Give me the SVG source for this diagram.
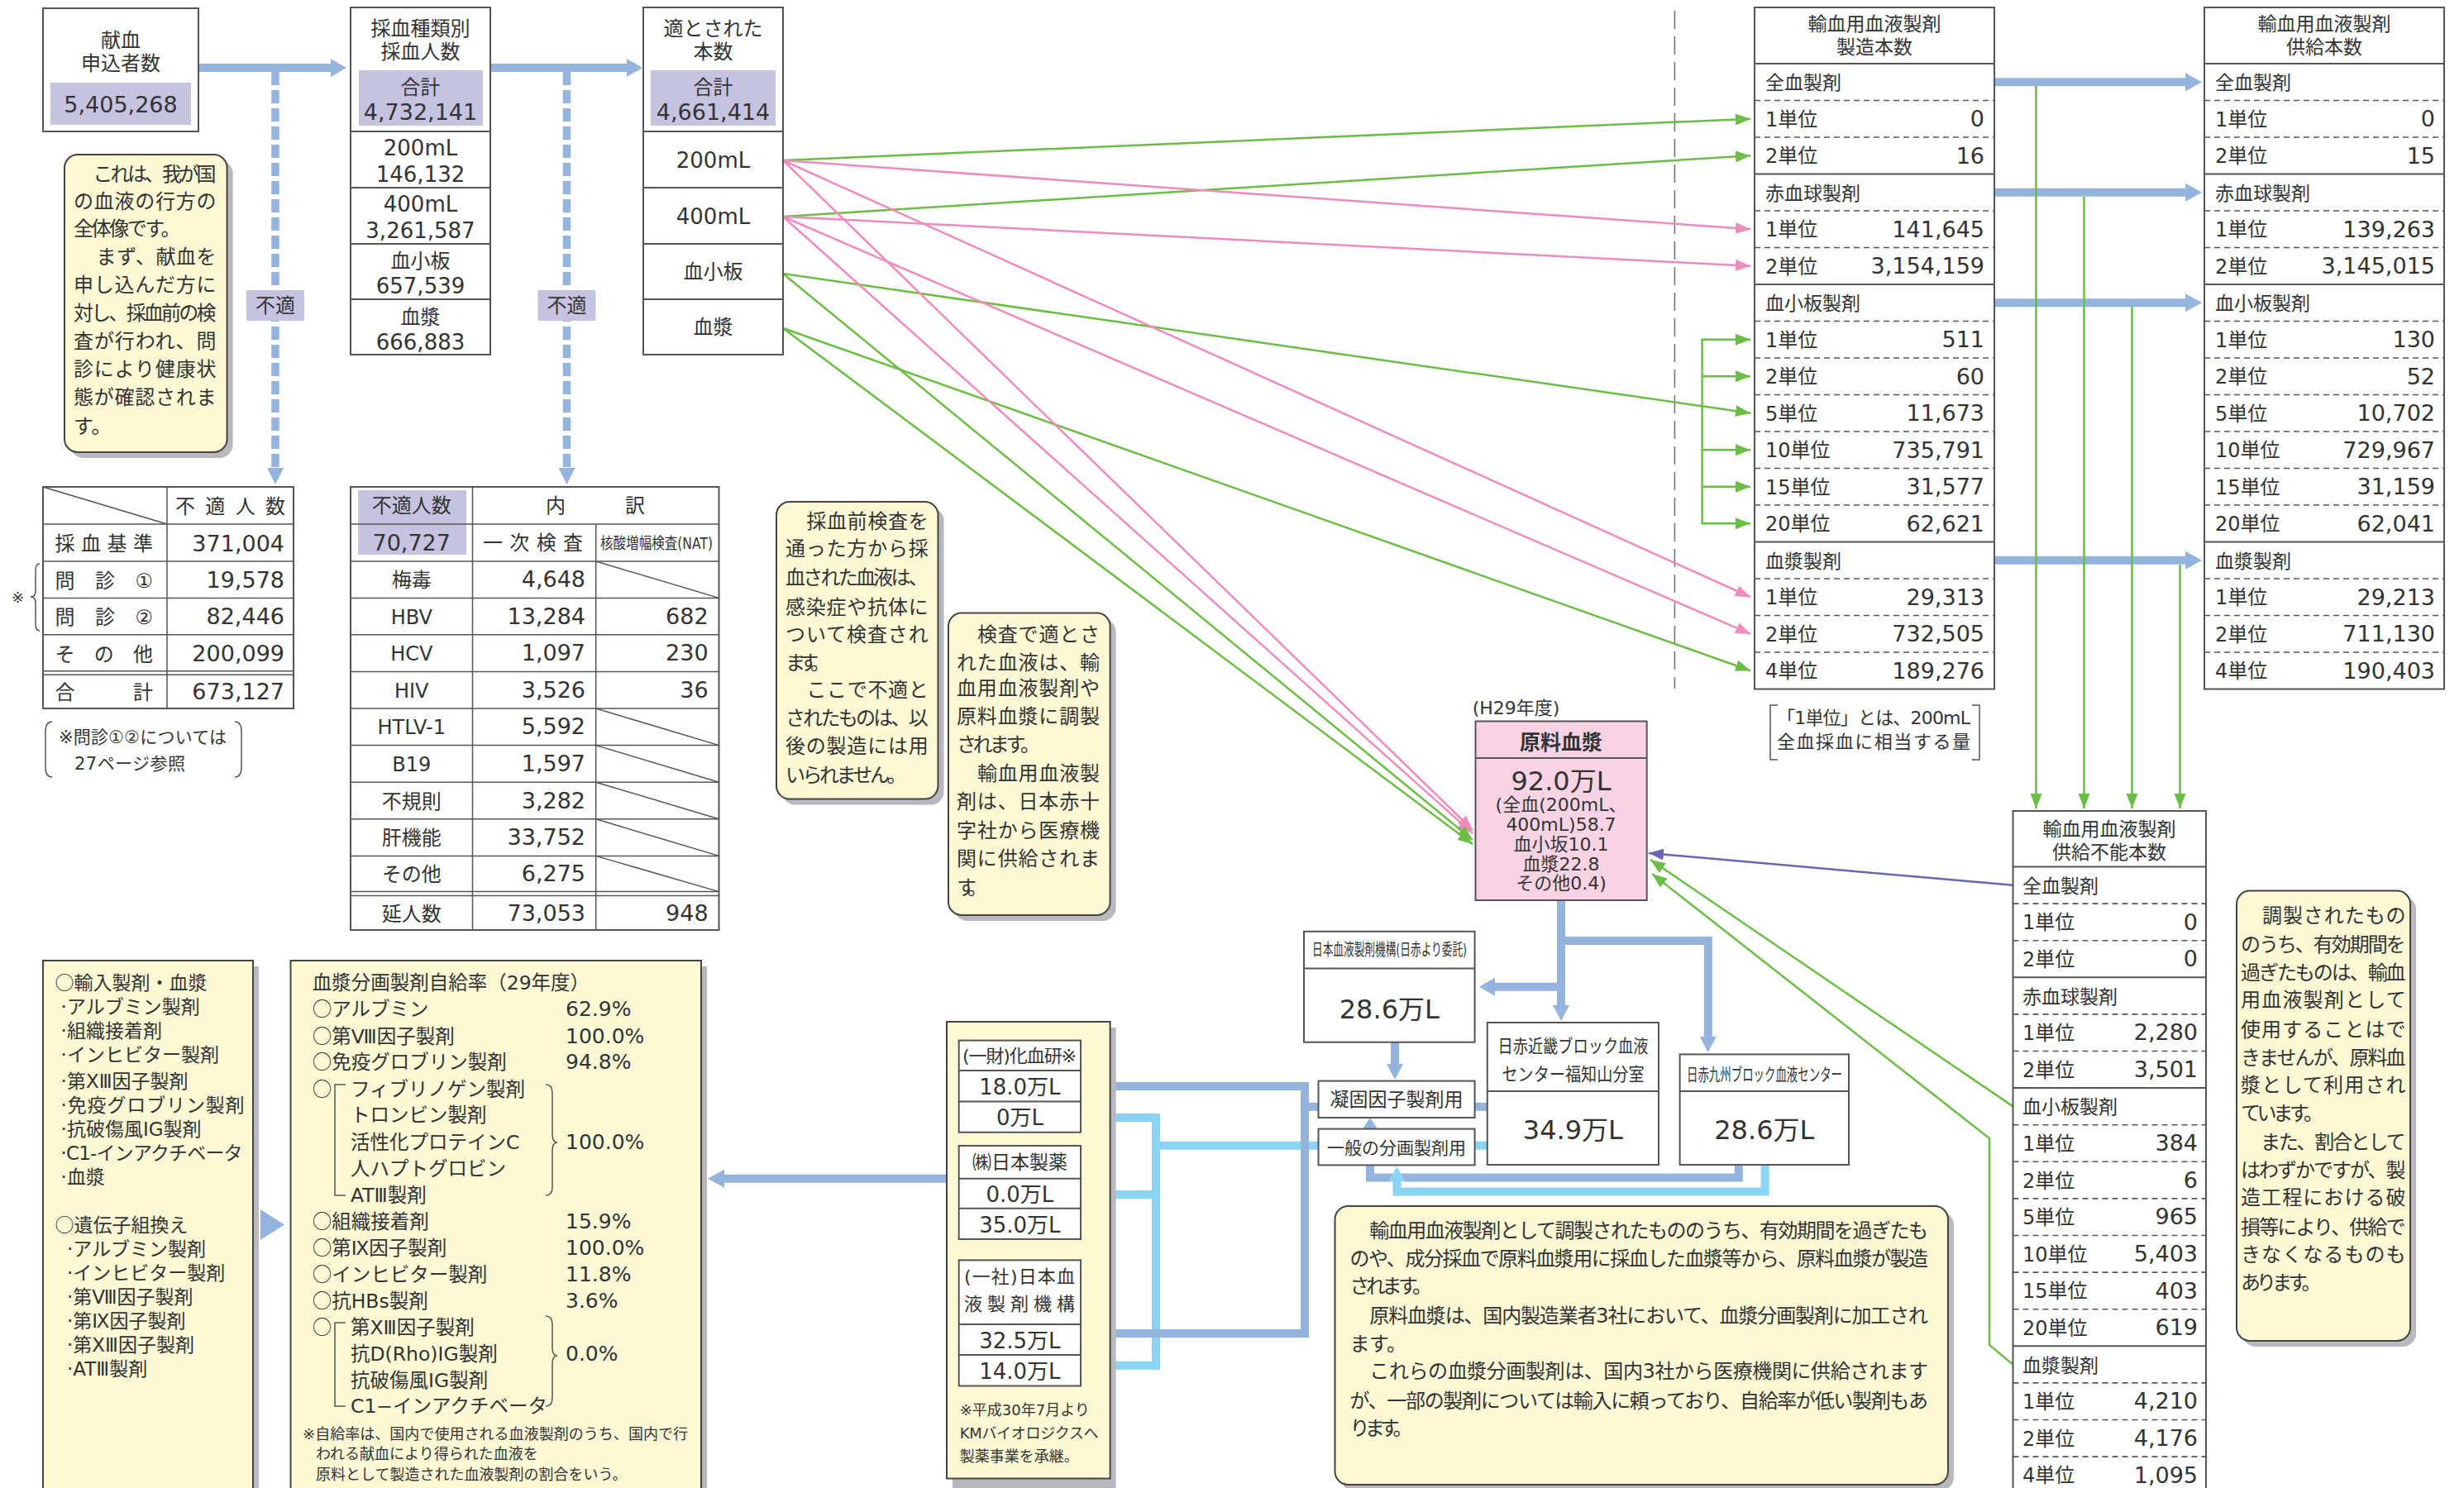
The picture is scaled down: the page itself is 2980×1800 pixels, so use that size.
<svg xmlns="http://www.w3.org/2000/svg" width="2980" height="1800" viewBox="0 0 2980 1800">
<style>
text{font-family:"DejaVu Sans","Noto Sans CJK JP",sans-serif;fill:#333;font-size:24px}
.j{font-family:"Noto Sans CJK JP",sans-serif}
.m{text-anchor:middle}
.e{text-anchor:end}
.v{font-size:27px}
.h{font-size:23px}
.box{fill:#fff;stroke:#555;stroke-width:2}
.sh{fill:#c6c3e1}
.note{fill:#fef9d5;stroke:#444;stroke-width:2}
.shd{fill:#b8b8be}
.sl{stroke:#555;stroke-width:2;fill:none}
.dl{stroke:#555;stroke-width:1.6;stroke-dasharray:7 5}
.tl{stroke:#555;stroke-width:1.5;fill:none}
.tb{stroke:#94b4de;stroke-width:10;fill:none}
.tc{stroke:#8cd4f4;stroke-width:10;fill:none}
.fb{fill:#94b4de}
.fc{fill:#8cd4f4}
.g{stroke:#6cbd45;stroke-width:2.5;fill:none}
.p{stroke:#f08bbd;stroke-width:2.5;fill:none}
.u{stroke:#6a64b4;stroke-width:2.5;fill:none}
</style>
<defs>
<marker id="ag" viewBox="0 0 18 14" refX="18" refY="7" markerWidth="18" markerHeight="14" markerUnits="userSpaceOnUse" orient="auto"><path d="M0,0 L18,7 L0,14 z" fill="#6cbd45"/></marker>
<marker id="ap" viewBox="0 0 18 14" refX="18" refY="7" markerWidth="18" markerHeight="14" markerUnits="userSpaceOnUse" orient="auto"><path d="M0,0 L18,7 L0,14 z" fill="#f08bbd"/></marker>
<marker id="au" viewBox="0 0 18 14" refX="18" refY="7" markerWidth="18" markerHeight="14" markerUnits="userSpaceOnUse" orient="auto"><path d="M0,0 L18,7 L0,14 z" fill="#6a64b4"/></marker>
</defs>
<rect width="2980" height="1800" fill="#fff"/>

<g id="connectors">
<line class="tb" x1="240" y1="82" x2="402" y2="82"/><polygon class="fb" points="400,71 419,82 400,93"/>
<line class="tb" x1="593" y1="82" x2="760" y2="82"/><polygon class="fb" points="758,71 777,82 758,93"/>
<line x1="333" y1="87" x2="333" y2="568" stroke="#94b4de" stroke-width="9.5" stroke-dasharray="16 6"/><polygon class="fb" points="323,566 343,566 333,586"/>
<line x1="685.5" y1="87" x2="685.5" y2="568" stroke="#94b4de" stroke-width="9.5" stroke-dasharray="16 6"/><polygon class="fb" points="675.5,566 695.5,566 685.5,586"/>
<line x1="2025.4" y1="13" x2="2025.4" y2="833" stroke="#777" stroke-width="1.6" stroke-dasharray="22 9"/>
<line class="g" x1="947" y1="194" x2="2117" y2="143.75" marker-end="url(#ag)"/>
<line class="g" x1="947" y1="262" x2="2117" y2="188.25" marker-end="url(#ag)"/>
<line class="p" x1="947" y1="194" x2="2117" y2="277.25" marker-end="url(#ap)"/>
<line class="p" x1="947" y1="262" x2="2117" y2="321.75" marker-end="url(#ap)"/>
<line class="g" x1="947" y1="331" x2="2117" y2="499.75" marker-end="url(#ag)"/>
<line class="p" x1="947" y1="194" x2="2117" y2="722.25" marker-end="url(#ap)"/>
<line class="p" x1="947" y1="262" x2="2117" y2="766.75" marker-end="url(#ap)"/>
<line class="g" x1="947" y1="397" x2="2117" y2="811.25" marker-end="url(#ag)"/>
<line class="p" x1="947" y1="194" x2="1781" y2="1004" marker-end="url(#ap)"/>
<line class="p" x1="947" y1="262" x2="1781" y2="1008" marker-end="url(#ap)"/>
<line class="g" x1="947" y1="331" x2="1781" y2="1016" marker-end="url(#ag)"/>
<line class="g" x1="947" y1="397" x2="1781" y2="1021" marker-end="url(#ag)"/>
<line class="g" x1="2058.6" y1="410.75" x2="2058.6" y2="633.25"/>
<line class="g" x1="2057.4" y1="410.75" x2="2117" y2="410.75" marker-end="url(#ag)"/>
<line class="g" x1="2058.6" y1="455.25" x2="2117" y2="455.25" marker-end="url(#ag)"/>
<line class="g" x1="2058.6" y1="544.25" x2="2117" y2="544.25" marker-end="url(#ag)"/>
<line class="g" x1="2058.6" y1="588.75" x2="2117" y2="588.75" marker-end="url(#ag)"/>
<line class="g" x1="2057.4" y1="633.25" x2="2117" y2="633.25" marker-end="url(#ag)"/>
<line class="tb" x1="2412" y1="99.25" x2="2645" y2="99.25"/><polygon class="fb" points="2643,88.25 2663,99.25 2643,110.25"/>
<line class="tb" x1="2412" y1="232.75" x2="2645" y2="232.75"/><polygon class="fb" points="2643,221.75 2663,232.75 2643,243.75"/>
<line class="tb" x1="2412" y1="366.25" x2="2645" y2="366.25"/><polygon class="fb" points="2643,355.25 2663,366.25 2643,377.25"/>
<line class="tb" x1="2412" y1="677.75" x2="2645" y2="677.75"/><polygon class="fb" points="2643,666.75 2663,677.75 2643,688.75"/>
<line class="g" x1="2462.5" y1="104" x2="2462.5" y2="978" marker-end="url(#ag)"/>
<line class="g" x1="2520.5" y1="238" x2="2520.5" y2="978" marker-end="url(#ag)"/>
<line class="g" x1="2578.5" y1="371" x2="2578.5" y2="978" marker-end="url(#ag)"/>
<line class="g" x1="2636.5" y1="683" x2="2636.5" y2="978" marker-end="url(#ag)"/>
<line class="u" x1="2434.5" y1="1070.8" x2="1994" y2="1032" marker-end="url(#au)"/>
<line class="g" x1="2434.5" y1="1338.4" x2="1996" y2="1040" marker-end="url(#ag)"/>
<polyline class="g" points="2434.5,1650.6 2406,1627 2406,1377 1998,1057" marker-end="url(#ag)"/>
<line class="tb" x1="1888" y1="1089" x2="1888" y2="1218"/><polygon class="fb" points="1878,1216 1898,1216 1888,1235"/>
<polyline class="tb" points="1888,1138 2065.8,1138 2065.8,1256"/><polygon class="fb" points="2055.8,1254 2075.8,1254 2065.8,1273"/>
<line class="tb" x1="1888" y1="1193.7" x2="1806" y2="1193.7"/><polygon class="fb" points="1808,1182.7 1789,1193.7 1808,1204.7"/>
<line class="tb" x1="1687" y1="1260.7" x2="1687" y2="1289"/><polygon class="fb" points="1677,1287 1697,1287 1687,1306"/>
<line class="tb" x1="1783" y1="1338.8" x2="1800" y2="1338.8"/>
<line class="tc" x1="1783" y1="1385.7" x2="1800" y2="1385.7"/>
<polyline class="tc" points="1595,1385.7 1398,1385.7"/>
<line class="tc" x1="1398" y1="1347" x2="1398" y2="1656.7"/>
<line class="tc" x1="1403" y1="1352" x2="1337" y2="1352"/><polygon class="fc" points="1339,1341 1320,1352 1339,1363"/>
<line class="tc" x1="1403" y1="1445" x2="1337" y2="1445"/><polygon class="fc" points="1339,1434 1320,1445 1339,1456"/>
<line class="tc" x1="1403" y1="1651.7" x2="1337" y2="1651.7"/><polygon class="fc" points="1339,1640.7 1320,1651.7 1339,1662.7"/>
<line class="tb" x1="1595" y1="1338.8" x2="1578" y2="1338.8"/>
<line class="tb" x1="1578" y1="1309" x2="1578" y2="1618"/>
<line class="tb" x1="1583" y1="1314" x2="1337" y2="1314"/><polygon class="fb" points="1339,1303 1320,1314 1339,1325"/>
<line class="tb" x1="1583" y1="1613" x2="1337" y2="1613"/><polygon class="fb" points="1339,1602 1320,1613 1339,1624"/>
<polyline class="tb" points="2102.8,1409 2102.8,1424.6 1657,1424.6 1657,1368"/><polygon class="fb" points="1647,1367 1667,1367 1657,1352"/>
<polyline class="tc" points="2134.6,1409 2134.6,1441.5 1689.5,1441.5 1689.5,1428"/><polygon class="fc" points="1679.5,1429 1699.5,1429 1689.5,1411"/>
<line class="tb" x1="1145" y1="1425.7" x2="874" y2="1425.7"/><polygon class="fb" points="876,1414.7 856,1425.7 876,1436.7"/>
<polygon class="fb" points="315,1463 344,1481.5 315,1500"/>
</g>

<g id="kenketsu">
<rect class="box" x="52" y="10" width="188" height="149"/>
<text class="m" x="146" y="57">献血</text>
<text class="m" x="146" y="85">申込者数</text>
<rect class="sh" x="61" y="100" width="170" height="51"/>
<text class="m v" x="146" y="136">5,405,268</text>
</g>

<g id="futeki1"><rect class="sh" x="298" y="351" width="70" height="37"/><text class="m" x="333" y="378">不適</text></g>
<g id="futeki2"><rect class="sh" x="650.5" y="351" width="70" height="37"/><text class="m" x="685.5" y="378">不適</text></g>

<g id="saiketsu">
<rect class="box" x="424" y="9" width="169" height="420"/>
<text class="m" x="508.5" y="43">採血種類別</text>
<text class="m" x="508.5" y="71">採血人数</text>
<rect class="sh" x="434" y="85" width="150" height="67"/>
<text class="m" x="508.5" y="114">合計</text>
<text class="m v" x="508.5" y="145">4,732,141</text>
<line class="sl" x1="424" y1="159" x2="593" y2="159"/>
<line class="sl" x1="424" y1="227" x2="593" y2="227"/>
<line class="sl" x1="424" y1="295" x2="593" y2="295"/>
<line class="sl" x1="424" y1="362" x2="593" y2="362"/>
<text class="m" x="508.5" y="188" style="font-size:26px">200mL</text>
<text class="m" x="508.5" y="220" style="font-size:26px">146,132</text>
<text class="m" x="508.5" y="256" style="font-size:26px">400mL</text>
<text class="m" x="508.5" y="288" style="font-size:26px">3,261,587</text>
<text class="m" x="508.5" y="324">血小板</text>
<text class="m" x="508.5" y="355" style="font-size:26px">657,539</text>
<text class="m" x="508.5" y="392">血漿</text>
<text class="m" x="508.5" y="423" style="font-size:26px">666,883</text>
</g>

<g id="tekisareta">
<rect class="box" x="778" y="9" width="169" height="420"/>
<text class="m" x="862.5" y="43">適とされた</text>
<text class="m" x="862.5" y="71">本数</text>
<rect class="sh" x="787" y="85" width="151" height="67"/>
<text class="m" x="862.5" y="114">合計</text>
<text class="m v" x="862.5" y="145">4,661,414</text>
<line class="sl" x1="778" y1="159" x2="947" y2="159"/>
<line class="sl" x1="778" y1="227" x2="947" y2="227"/>
<line class="sl" x1="778" y1="295" x2="947" y2="295"/>
<line class="sl" x1="778" y1="362" x2="947" y2="362"/>
<text class="m" x="862.5" y="203" style="font-size:26px">200mL</text>
<text class="m" x="862.5" y="271" style="font-size:26px">400mL</text>
<text class="m" x="862.5" y="337">血小板</text>
<text class="m" x="862.5" y="404">血漿</text>
</g>

<g id="note-a">
<rect class="shd" x="85" y="194" width="196.6" height="360" rx="16"/>
<rect class="note" x="78" y="187" width="196.6" height="360" rx="16"/>
<text x="112.6" y="219" textLength="149">これは、我が国</text>
<text x="89" y="252" textLength="172.5">の血液の行方の</text>
<text x="89" y="285" textLength="129.5">全体像です。</text>
<text x="116.6" y="319" textLength="145">まず、献血を</text>
<text x="89" y="353" textLength="172.5">申し込んだ方に</text>
<text x="89" y="387" textLength="172.5">対し、採血前の検</text>
<text x="89" y="421" textLength="172.5">査が行われ、問</text>
<text x="89" y="455" textLength="172.5">診により健康状</text>
<text x="89" y="489" textLength="172.5">態が確認されま</text>
<text x="89" y="524">す。</text>
</g>

<g id="table-futeki">
<rect class="box" x="52" y="589" width="303" height="268"/>
<line class="tl" x1="202" y1="589" x2="202" y2="857"/>
<line class="tl" x1="52" y1="589" x2="202" y2="634"/>
<line class="tl" x1="52" y1="634" x2="355" y2="634"/>
<line class="tl" x1="52" y1="679" x2="355" y2="679"/>
<line class="tl" x1="52" y1="723.4" x2="355" y2="723.4"/>
<line class="tl" x1="52" y1="767.8" x2="355" y2="767.8"/>
<line class="tl" x1="52" y1="811.8" x2="355" y2="811.8"/>
<line class="tl" x1="52" y1="816.2" x2="355" y2="816.2"/>
<text x="212" y="621" textLength="133">不　適　人　数</text>
<text x="66.5" y="666" textLength="118.5">採　血　基　準</text>
<text x="66.5" y="711" textLength="118.5">問　診　①</text>
<text x="66.5" y="755" textLength="118.5">問　診　②</text>
<text x="66.5" y="800" textLength="118.5">そ　の　他</text>
<text x="66.5" y="846" textLength="118.5">合　　　計</text>
<text class="e v" x="344" y="667">371,004</text>
<text class="e v" x="344" y="711">19,578</text>
<text class="e v" x="344" y="755">82,446</text>
<text class="e v" x="344" y="800">200,099</text>
<text class="e v" x="344" y="846">673,127</text>
<text x="14" y="729" style="font-size:18px">※</text>
<path class="tl" d="M48,682 Q43,682 43,690 L43,715 Q43,722 37,722 Q43,722 43,729 L43,755 Q43,763 48,763"/>
<path class="tl" d="M63,873 Q55,873 55,885 L55,928 Q55,940 63,940"/>
<path class="tl" d="M284,873 Q292,873 292,885 L292,928 Q292,940 284,940"/>
<text x="71" y="899" style="font-size:21px" textLength="203">※問診①②については</text>
<text x="90" y="931" style="font-size:21px" textLength="134">27ページ参照</text>
</g>

<g id="table-kensa">
<rect class="sh" x="433" y="593" width="131" height="78"/>
<rect x="424" y="589" width="445.5" height="536" fill="none" stroke="#555" stroke-width="2"/>
<line class="tl" x1="571.5" y1="589" x2="571.5" y2="1125"/>
<line class="tl" x1="720.7" y1="634" x2="720.7" y2="1125"/>
<line class="tl" x1="424" y1="634" x2="869.5" y2="634"/>
<line class="tl" x1="424" y1="679" x2="869.5" y2="679"/>
<line class="tl" x1="424" y1="723.4" x2="869.5" y2="723.4"/>
<line class="tl" x1="424" y1="767.8" x2="869.5" y2="767.8"/>
<line class="tl" x1="424" y1="812.4" x2="869.5" y2="812.4"/>
<line class="tl" x1="424" y1="857" x2="869.5" y2="857"/>
<line class="tl" x1="424" y1="901.6" x2="869.5" y2="901.6"/>
<line class="tl" x1="424" y1="946.2" x2="869.5" y2="946.2"/>
<line class="tl" x1="424" y1="990.8" x2="869.5" y2="990.8"/>
<line class="tl" x1="424" y1="1035.4" x2="869.5" y2="1035.4"/>
<line class="tl" x1="424" y1="1078.6" x2="869.5" y2="1078.6"/>
<line class="tl" x1="424" y1="1083.4" x2="869.5" y2="1083.4"/>
<line class="tl" x1="720.7" y1="679" x2="869.5" y2="723.4"/>
<line class="tl" x1="720.7" y1="857" x2="869.5" y2="901.6"/>
<line class="tl" x1="720.7" y1="901.6" x2="869.5" y2="946.2"/>
<line class="tl" x1="720.7" y1="946.2" x2="869.5" y2="990.8"/>
<line class="tl" x1="720.7" y1="990.8" x2="869.5" y2="1035.4"/>
<line class="tl" x1="720.7" y1="1035.4" x2="869.5" y2="1078.6"/>
<text class="m" x="497.75" y="620">不適人数</text>
<text x="660" y="620">内　　　訳</text>
<text class="m v" x="497.75" y="666">70,727</text>
<text x="584" y="665" textLength="121">一　次　検　査</text>
<text x="726" y="664" style="font-size:19px" textLength="136" lengthAdjust="spacingAndGlyphs">核酸増幅検査(NAT)</text>
<text class="m" x="497.75" y="710">梅毒</text>
<text class="m" x="497.75" y="754.5">HBV</text>
<text class="m" x="497.75" y="799">HCV</text>
<text class="m" x="497.75" y="844">HIV</text>
<text class="m" x="497.75" y="888">HTLV-1</text>
<text class="m" x="497.75" y="933">B19</text>
<text class="m" x="497.75" y="977.6">不規則</text>
<text class="m" x="497.75" y="1022">肝機能</text>
<text class="m" x="497.75" y="1066">その他</text>
<text class="m" x="497.75" y="1113.5">延人数</text>
<text class="e v" x="708" y="710">4,648</text>
<text class="e v" x="708" y="754.5">13,284</text>
<text class="e v" x="708" y="799">1,097</text>
<text class="e v" x="708" y="844">3,526</text>
<text class="e v" x="708" y="888">5,592</text>
<text class="e v" x="708" y="933">1,597</text>
<text class="e v" x="708" y="977.6">3,282</text>
<text class="e v" x="708" y="1022">33,752</text>
<text class="e v" x="708" y="1066">6,275</text>
<text class="e v" x="708" y="1113.5">73,053</text>
<text class="e v" x="856.6" y="754.5">682</text>
<text class="e v" x="856.6" y="799">230</text>
<text class="e v" x="856.6" y="844">36</text>
<text class="e v" x="856.6" y="1113.5">948</text>
</g>

<g id="note-b">
<rect class="shd" x="946" y="614" width="195.5" height="359.6" rx="16"/>
<rect class="note" x="939" y="607" width="195.5" height="359.6" rx="16"/>
<text x="975.4" y="639" textLength="147.3">採血前検査を</text>
<text x="950" y="672" textLength="172.7">通った方から採</text>
<text x="950" y="706.6" textLength="172.7">血された血液は、</text>
<text x="950" y="743" textLength="172.7">感染症や抗体に</text>
<text x="950" y="776" textLength="172.7">ついて検査され</text>
<text x="950" y="810" textLength="54">ます。</text>
<text x="975.4" y="843" textLength="147.3">ここで不適と</text>
<text x="950" y="877" textLength="172.7">されたものは、以</text>
<text x="950" y="911" textLength="172.7">後の製造には用</text>
<text x="950" y="946" textLength="146.5">いられません。</text>
</g>

<g id="note-c">
<rect class="shd" x="1154" y="748.6" width="195.6" height="365.4" rx="16"/>
<rect class="note" x="1147" y="741.6" width="195.6" height="365.4" rx="16"/>
<text x="1182" y="775.5" textLength="148">検査で適とさ</text>
<text x="1157" y="810" textLength="173">れた血液は、輸</text>
<text x="1157" y="840.5" textLength="173">血用血液製剤や</text>
<text x="1157" y="875" textLength="173">原料血漿に調製</text>
<text x="1157" y="909.4" textLength="101">されます。</text>
<text x="1182" y="944" textLength="148">輸血用血液製</text>
<text x="1157" y="978.3" textLength="173">剤は、日本赤十</text>
<text x="1157" y="1012.7" textLength="173">字社から医療機</text>
<text x="1157" y="1047.2" textLength="173">関に供給されま</text>
<text x="1157" y="1081.6" textLength="37">す。</text>
</g>

<g id="seizo">
<rect class="box" x="2122" y="9" width="290" height="824.5"/>
<line class="sl" x1="2122" y1="77" x2="2412" y2="77"/>
<line class="sl" x1="2122" y1="210.5" x2="2412" y2="210.5"/>
<line class="sl" x1="2122" y1="344" x2="2412" y2="344"/>
<line class="sl" x1="2122" y1="655.5" x2="2412" y2="655.5"/>
<g class="dl">
<line x1="2122" y1="121.5" x2="2412" y2="121.5"/><line x1="2122" y1="166" x2="2412" y2="166"/>
<line x1="2122" y1="255" x2="2412" y2="255"/><line x1="2122" y1="299.5" x2="2412" y2="299.5"/>
<line x1="2122" y1="388.5" x2="2412" y2="388.5"/><line x1="2122" y1="433" x2="2412" y2="433"/>
<line x1="2122" y1="477.5" x2="2412" y2="477.5"/><line x1="2122" y1="522" x2="2412" y2="522"/>
<line x1="2122" y1="566.5" x2="2412" y2="566.5"/><line x1="2122" y1="611" x2="2412" y2="611"/>
<line x1="2122" y1="700" x2="2412" y2="700"/><line x1="2122" y1="744.5" x2="2412" y2="744.5"/>
<line x1="2122" y1="789" x2="2412" y2="789"/>
</g>
<text class="m h" x="2267" y="37">輸血用血液製剤</text>
<text class="m h" x="2267" y="65">製造本数</text>
<text class="h" x="2135" y="108.25">全血製剤</text>
<text x="2135" y="152.75">1単位</text><text class="e v" x="2400" y="153">0</text>
<text x="2135" y="197.25">2単位</text><text class="e v" x="2400" y="197.5">16</text>
<text class="h" x="2135" y="241.75">赤血球製剤</text>
<text x="2135" y="286.25">1単位</text><text class="e v" x="2400" y="286.5">141,645</text>
<text x="2135" y="330.75">2単位</text><text class="e v" x="2400" y="331">3,154,159</text>
<text class="h" x="2135" y="375.25">血小板製剤</text>
<text x="2135" y="419.75">1単位</text><text class="e v" x="2400" y="420">511</text>
<text x="2135" y="464.25">2単位</text><text class="e v" x="2400" y="464.5">60</text>
<text x="2135" y="508.75">5単位</text><text class="e v" x="2400" y="509">11,673</text>
<text x="2135" y="553.25">10単位</text><text class="e v" x="2400" y="553.5">735,791</text>
<text x="2135" y="597.75">15単位</text><text class="e v" x="2400" y="598">31,577</text>
<text x="2135" y="642.25">20単位</text><text class="e v" x="2400" y="642.5">62,621</text>
<text class="h" x="2135" y="686.75">血漿製剤</text>
<text x="2135" y="731.25">1単位</text><text class="e v" x="2400" y="731.5">29,313</text>
<text x="2135" y="775.75">2単位</text><text class="e v" x="2400" y="776">732,505</text>
<text x="2135" y="820.25">4単位</text><text class="e v" x="2400" y="820.5">189,276</text>
</g>

<g id="kyokyu">
<rect class="box" x="2666" y="9" width="290" height="824.5"/>
<line class="sl" x1="2666" y1="77" x2="2956" y2="77"/>
<line class="sl" x1="2666" y1="210.5" x2="2956" y2="210.5"/>
<line class="sl" x1="2666" y1="344" x2="2956" y2="344"/>
<line class="sl" x1="2666" y1="655.5" x2="2956" y2="655.5"/>
<g class="dl">
<line x1="2666" y1="121.5" x2="2956" y2="121.5"/><line x1="2666" y1="166" x2="2956" y2="166"/>
<line x1="2666" y1="255" x2="2956" y2="255"/><line x1="2666" y1="299.5" x2="2956" y2="299.5"/>
<line x1="2666" y1="388.5" x2="2956" y2="388.5"/><line x1="2666" y1="433" x2="2956" y2="433"/>
<line x1="2666" y1="477.5" x2="2956" y2="477.5"/><line x1="2666" y1="522" x2="2956" y2="522"/>
<line x1="2666" y1="566.5" x2="2956" y2="566.5"/><line x1="2666" y1="611" x2="2956" y2="611"/>
<line x1="2666" y1="700" x2="2956" y2="700"/><line x1="2666" y1="744.5" x2="2956" y2="744.5"/>
<line x1="2666" y1="789" x2="2956" y2="789"/>
</g>
<text class="m h" x="2811" y="37">輸血用血液製剤</text>
<text class="m h" x="2811" y="65">供給本数</text>
<text class="h" x="2679" y="108.25">全血製剤</text>
<text x="2679" y="152.75">1単位</text><text class="e v" x="2945" y="153">0</text>
<text x="2679" y="197.25">2単位</text><text class="e v" x="2945" y="197.5">15</text>
<text class="h" x="2679" y="241.75">赤血球製剤</text>
<text x="2679" y="286.25">1単位</text><text class="e v" x="2945" y="286.5">139,263</text>
<text x="2679" y="330.75">2単位</text><text class="e v" x="2945" y="331">3,145,015</text>
<text class="h" x="2679" y="375.25">血小板製剤</text>
<text x="2679" y="419.75">1単位</text><text class="e v" x="2945" y="420">130</text>
<text x="2679" y="464.25">2単位</text><text class="e v" x="2945" y="464.5">52</text>
<text x="2679" y="508.75">5単位</text><text class="e v" x="2945" y="509">10,702</text>
<text x="2679" y="553.25">10単位</text><text class="e v" x="2945" y="553.5">729,967</text>
<text x="2679" y="597.75">15単位</text><text class="e v" x="2945" y="598">31,159</text>
<text x="2679" y="642.25">20単位</text><text class="e v" x="2945" y="642.5">62,041</text>
<text class="h" x="2679" y="686.75">血漿製剤</text>
<text x="2679" y="731.25">1単位</text><text class="e v" x="2945" y="731.5">29,213</text>
<text x="2679" y="775.75">2単位</text><text class="e v" x="2945" y="776">711,130</text>
<text x="2679" y="820.25">4単位</text><text class="e v" x="2945" y="820.5">190,403</text>
</g>

<g id="unit-note">
<path class="tl" d="M2150,853 H2141 V919 H2150"/>
<path class="tl" d="M2385,853 H2394 V919 H2385"/>
<text x="2149" y="876" style="font-size:22px" textLength="234">「1単位」とは、200mL</text>
<text x="2149" y="905" style="font-size:22px" textLength="234">全血採血に相当する量</text>
</g>

<g id="kyokyu-funo">
<rect class="box" x="2434.5" y="981" width="233.5" height="826"/>
<line class="sl" x1="2434.5" y1="1048.5" x2="2668" y2="1048.5"/>
<line class="sl" x1="2434.5" y1="1182.3" x2="2668" y2="1182.3"/>
<line class="sl" x1="2434.5" y1="1316.1" x2="2668" y2="1316.1"/>
<line class="sl" x1="2434.5" y1="1628.3" x2="2668" y2="1628.3"/>
<g class="dl">
<line x1="2434.5" y1="1093.1" x2="2668" y2="1093.1"/><line x1="2434.5" y1="1137.7" x2="2668" y2="1137.7"/>
<line x1="2434.5" y1="1226.9" x2="2668" y2="1226.9"/><line x1="2434.5" y1="1271.5" x2="2668" y2="1271.5"/>
<line x1="2434.5" y1="1360.7" x2="2668" y2="1360.7"/><line x1="2434.5" y1="1405.3" x2="2668" y2="1405.3"/>
<line x1="2434.5" y1="1449.9" x2="2668" y2="1449.9"/><line x1="2434.5" y1="1494.5" x2="2668" y2="1494.5"/>
<line x1="2434.5" y1="1539.1" x2="2668" y2="1539.1"/><line x1="2434.5" y1="1583.7" x2="2668" y2="1583.7"/>
<line x1="2434.5" y1="1672.9" x2="2668" y2="1672.9"/><line x1="2434.5" y1="1717.5" x2="2668" y2="1717.5"/>
<line x1="2434.5" y1="1762.1" x2="2668" y2="1762.1"/>
</g>
<text class="m h" x="2551" y="1011">輸血用血液製剤</text>
<text class="m h" x="2551" y="1039">供給不能本数</text>
<text class="h" x="2446" y="1079.8">全血製剤</text>
<text x="2446" y="1124.4">1単位</text><text class="e v" x="2658" y="1124.6">0</text>
<text x="2446" y="1169">2単位</text><text class="e v" x="2658" y="1169.2">0</text>
<text class="h" x="2446" y="1213.6">赤血球製剤</text>
<text x="2446" y="1258.2">1単位</text><text class="e v" x="2658" y="1258.4">2,280</text>
<text x="2446" y="1302.8">2単位</text><text class="e v" x="2658" y="1303">3,501</text>
<text class="h" x="2446" y="1347.4">血小板製剤</text>
<text x="2446" y="1392">1単位</text><text class="e v" x="2658" y="1392.2">384</text>
<text x="2446" y="1436.6">2単位</text><text class="e v" x="2658" y="1436.8">6</text>
<text x="2446" y="1481.2">5単位</text><text class="e v" x="2658" y="1481.4">965</text>
<text x="2446" y="1525.8">10単位</text><text class="e v" x="2658" y="1526">5,403</text>
<text x="2446" y="1570.4">15単位</text><text class="e v" x="2658" y="1570.6">403</text>
<text x="2446" y="1615">20単位</text><text class="e v" x="2658" y="1615.2">619</text>
<text class="h" x="2446" y="1659.6">血漿製剤</text>
<text x="2446" y="1704.2">1単位</text><text class="e v" x="2658" y="1704.4">4,210</text>
<text x="2446" y="1748.8">2単位</text><text class="e v" x="2658" y="1749">4,176</text>
<text x="2446" y="1793.4">4単位</text><text class="e v" x="2658" y="1793.6">1,095</text>
</g>

<g id="genryo-kessho">
<text class="m" x="1833.5" y="864" style="font-size:22px">(H29年度)</text>
<rect x="1784.5" y="872.5" width="207.2" height="216.5" fill="#f8d3e4" stroke="#555" stroke-width="2"/>
<line class="sl" x1="1784.5" y1="917" x2="1991.7" y2="917"/>
<text class="m j" x="1888" y="907" style="font-size:25px;font-weight:bold">原料血漿</text>
<text class="m" x="1888" y="956" style="font-size:32px">92.0万L</text>
<text class="m" x="1888" y="981" style="font-size:22px">(全血(200mL、</text>
<text class="m" x="1888" y="1005" style="font-size:22px">400mL)58.7</text>
<text class="m" x="1888" y="1029" style="font-size:22px">血小坂10.1</text>
<text class="m" x="1888" y="1053" style="font-size:22px">血漿22.8</text>
<text class="m" x="1888" y="1076" style="font-size:22px">その他0.4)</text>
</g>

<g id="jbpo">
<rect class="box" x="1577" y="1126.8" width="206.6" height="133.9"/>
<line class="sl" x1="1577" y1="1171.4" x2="1783.6" y2="1171.4"/>
<text x="1587" y="1156" style="font-size:20px" textLength="187" lengthAdjust="spacingAndGlyphs">日本血液製剤機構(日赤より委託)</text>
<text class="m" x="1680.3" y="1232" style="font-size:32px">28.6万L</text>
</g>

<g id="kinki">
<rect class="box" x="1798.8" y="1237" width="207.2" height="172"/>
<line class="sl" x1="1798.8" y1="1320" x2="2006" y2="1320"/>
<text x="1811.5" y="1273" style="font-size:22px" textLength="182" lengthAdjust="spacingAndGlyphs">日赤近畿ブロック血液</text>
<text x="1816.5" y="1307" style="font-size:22px" textLength="172" lengthAdjust="spacingAndGlyphs">センター福知山分室</text>
<text class="m" x="1902.4" y="1378" style="font-size:32px">34.9万L</text>
</g>

<g id="kyushu">
<rect class="box" x="2031.6" y="1275.4" width="204.4" height="133.6"/>
<line class="sl" x1="2031.6" y1="1320" x2="2236" y2="1320"/>
<text x="2040" y="1307" style="font-size:21px" textLength="188" lengthAdjust="spacingAndGlyphs">日赤九州ブロック血液センター</text>
<text class="m" x="2133.8" y="1378" style="font-size:32px">28.6万L</text>
</g>

<g id="gyoko">
<rect class="box" x="1594.5" y="1307.6" width="189.1" height="44.4"/>
<text class="m" x="1689" y="1338" style="font-size:23px">凝固因子製剤用</text>
</g>
<g id="ippan">
<rect class="box" x="1594.5" y="1365.6" width="189.1" height="43.8"/>
<text class="m" x="1689" y="1395.5" style="font-size:21px">一般の分画製剤用</text>
</g>

<g id="note-d">
<rect class="shd" x="2712" y="1084.6" width="210" height="544.4" rx="16"/>
<rect class="note" x="2705" y="1077.6" width="210" height="544.4" rx="16"/>
<text x="2736" y="1116" textLength="173.6">調製されたもの</text>
<text x="2710" y="1151" textLength="199.6">のうち、有効期間を</text>
<text x="2710" y="1185" textLength="199.6">過ぎたものは、輸血</text>
<text x="2710" y="1218" textLength="199.6">用血液製剤として</text>
<text x="2710" y="1254" textLength="199.6">使用することはで</text>
<text x="2710" y="1288" textLength="199.6">きませんが、原料血</text>
<text x="2710" y="1321" textLength="199.6">漿として利用され</text>
<text x="2710" y="1354.5" textLength="100">ています。</text>
<text x="2734" y="1390" textLength="175.6">また、割合として</text>
<text x="2710" y="1424" textLength="199.6">はわずかですが、製</text>
<text x="2710" y="1457" textLength="199.6">造工程における破</text>
<text x="2710" y="1493" textLength="199.6">損等により、供給で</text>
<text x="2710" y="1526" textLength="199.6">きなくなるものも</text>
<text x="2710" y="1560" textLength="97.5">あります。</text>
</g>

<g id="note-e">
<rect class="shd" x="1621.5" y="1466" width="741.5" height="337" rx="16"/>
<rect class="note" x="1614.5" y="1459" width="741.5" height="337" rx="16"/>
<text x="1656.3" y="1497" textLength="675.7">輸血用血液製剤として調製されたもののうち、有効期間を過ぎたも</text>
<text x="1632.5" y="1531" textLength="699.5">のや、成分採血で原料血漿用に採血した血漿等から、原料血漿が製造</text>
<text x="1632.5" y="1564" textLength="99.5">されます。</text>
<text x="1656.3" y="1600" textLength="675.7">原料血漿は、国内製造業者3社において、血漿分画製剤に加工され</text>
<text x="1632.5" y="1634" textLength="68.5">ます。</text>
<text x="1656.3" y="1667" textLength="675.7">これらの血漿分画製剤は、国内3社から医療機関に供給されます</text>
<text x="1632.5" y="1703" textLength="699.5">が、一部の製剤については輸入に頼っており、自給率が低い製剤もあ</text>
<text x="1632.5" y="1736" textLength="76">ります。</text>
</g>

<g id="companies">
<rect class="shd" x="1152" y="1243" width="197.6" height="560"/>
<rect x="1145" y="1236" width="197.6" height="552.5" fill="#fef9d5" stroke="#444" stroke-width="2"/>
<rect class="box" x="1159.7" y="1258.6" width="147.3" height="111.1"/>
<line class="sl" x1="1159.7" y1="1295" x2="1307" y2="1295"/>
<line class="sl" x1="1159.7" y1="1332.4" x2="1307" y2="1332.4"/>
<text x="1164" y="1285" style="font-size:22px" textLength="138">(一財)化血研※</text>
<text class="m" x="1233.4" y="1324" style="font-size:26px">18.0万L</text>
<text class="m" x="1233.4" y="1361" style="font-size:26px">0万L</text>
<rect class="box" x="1159.7" y="1386" width="147.3" height="113"/>
<line class="sl" x1="1159.7" y1="1425.7" x2="1307" y2="1425.7"/>
<line class="sl" x1="1159.7" y1="1461.8" x2="1307" y2="1461.8"/>
<text class="m" x="1233.4" y="1414" style="font-size:23px">㈱日本製薬</text>
<text class="m" x="1233.4" y="1454" style="font-size:26px">0.0万L</text>
<text class="m" x="1233.4" y="1491" style="font-size:26px">35.0万L</text>
<rect class="box" x="1159.7" y="1524.4" width="147.3" height="152.1"/>
<line class="sl" x1="1159.7" y1="1602" x2="1307" y2="1602"/>
<line class="sl" x1="1159.7" y1="1639" x2="1307" y2="1639"/>
<text x="1166" y="1552" style="font-size:22px" textLength="134">(一社)日本血</text>
<text x="1166" y="1585" style="font-size:22px" textLength="134">液　製　剤　機　構</text>
<text class="m" x="1233.4" y="1631" style="font-size:26px">32.5万L</text>
<text class="m" x="1233.4" y="1668" style="font-size:26px">14.0万L</text>
<text x="1160.7" y="1712" style="font-size:18px">※平成30年7月より</text>
<text x="1160.7" y="1740" style="font-size:18px" textLength="168">KMバイオロジクスへ</text>
<text x="1160.7" y="1768" style="font-size:18px">製薬事業を承継。</text>
</g>

<g id="note-f">
<rect class="shd" x="59" y="1169" width="254" height="640"/>
<rect x="52" y="1162" width="254" height="645" fill="#fef9d5" stroke="#444" stroke-width="2"/>
<g style="font-size:23px">
<text x="66.5" y="1197" style="font-size:23px"><tspan class="j">○</tspan>輸入製剤・血漿</text>
<text x="73.6" y="1226" style="font-size:23px">·アルブミン製剤</text>
<text x="73.6" y="1255" style="font-size:23px">·組織接着剤</text>
<text x="73.6" y="1284" style="font-size:23px">·インヒビター製剤</text>
<text x="73.6" y="1315.5" style="font-size:23px">·第ⅩⅢ因子製剤</text>
<text x="73.6" y="1344.6" style="font-size:23px" textLength="222">·免疫グロブリン製剤</text>
<text x="73.6" y="1373.6" style="font-size:23px">·抗破傷風IG製剤</text>
<text x="73.6" y="1402.6" style="font-size:23px" textLength="220">·C1-インアクチベータ</text>
<text x="73.6" y="1431.6" style="font-size:23px">·血漿</text>
<text x="66.5" y="1489.7" style="font-size:23px"><tspan class="j">○</tspan>遺伝子組換え</text>
<text x="81" y="1518.7" style="font-size:23px">·アルブミン製剤</text>
<text x="81" y="1547.7" style="font-size:23px">·インヒビター製剤</text>
<text x="81" y="1576.7" style="font-size:23px">·第Ⅷ因子製剤</text>
<text x="81" y="1605.8" style="font-size:23px">·第Ⅸ因子製剤</text>
<text x="81" y="1634.8" style="font-size:23px">·第ⅩⅢ因子製剤</text>
<text x="81" y="1663.8" style="font-size:23px">·ATⅢ製剤</text>
</g>
</g>

<g id="note-g">
<rect class="shd" x="358.5" y="1169" width="496.5" height="640"/>
<rect x="351.5" y="1162" width="496.5" height="645" fill="#fef9d5" stroke="#444" stroke-width="2"/>
<text x="377.7" y="1197" style="font-size:23.5px">血漿分画製剤自給率（29年度）</text>
<text x="377.7" y="1228.5" style="font-size:23.5px"><tspan class="j">○</tspan>アルブミン</text>
<text x="377.7" y="1261.6" style="font-size:23.5px"><tspan class="j">○</tspan>第Ⅷ因子製剤</text>
<text x="377.7" y="1292.7" style="font-size:23.5px"><tspan class="j">○</tspan>免疫グロブリン製剤</text>
<text class="j" x="377.7" y="1326" style="font-size:23.5px">○</text>
<text x="424" y="1326" style="font-size:23.5px">フィブリノゲン製剤</text>
<text x="424" y="1357" style="font-size:23.5px">トロンビン製剤</text>
<text x="424" y="1390" style="font-size:23.5px">活性化プロテインC</text>
<text x="424" y="1422" style="font-size:23.5px">人ハプトグロビン</text>
<text x="424" y="1454.4" style="font-size:23.5px">ATⅢ製剤</text>
<text x="377.7" y="1485.5" style="font-size:23.5px"><tspan class="j">○</tspan>組織接着剤</text>
<text x="377.7" y="1518" style="font-size:23.5px"><tspan class="j">○</tspan>第Ⅸ因子製剤</text>
<text x="377.7" y="1549.8" style="font-size:23.5px"><tspan class="j">○</tspan>インヒビター製剤</text>
<text x="377.7" y="1581.7" style="font-size:23.5px"><tspan class="j">○</tspan>抗HBs製剤</text>
<text class="j" x="377.7" y="1614" style="font-size:23.5px">○</text>
<text x="424" y="1614" style="font-size:23.5px">第XⅢ因子製剤</text>
<text x="424" y="1646.4" style="font-size:23.5px">抗D(Rho)IG製剤</text>
<text x="424" y="1678" style="font-size:23.5px">抗破傷風IG製剤</text>
<text x="424" y="1709" style="font-size:23.5px">C1−インアクチベータ</text>
<g style="font-size:25px">
<text x="684" y="1229" style="font-size:25px">62.9%</text>
<text x="684" y="1262" style="font-size:25px">100.0%</text>
<text x="684" y="1293" style="font-size:25px">94.8%</text>
<text x="684" y="1390" style="font-size:25px">100.0%</text>
<text x="684" y="1486" style="font-size:25px">15.9%</text>
<text x="684" y="1518" style="font-size:25px">100.0%</text>
<text x="684" y="1550" style="font-size:25px">11.8%</text>
<text x="684" y="1582" style="font-size:25px">3.6%</text>
<text x="684" y="1646" style="font-size:25px">0.0%</text>
</g>
<path class="tl" d="M418,1312 H405 V1446 H418"/>
<path class="tl" d="M660,1312 Q668,1312 668,1322 V1372 Q668,1382 674,1382 Q668,1382 668,1392 V1436 Q668,1446 660,1446"/>
<path class="tl" d="M418,1600 H405 V1701 H418"/>
<path class="tl" d="M660,1592 Q668,1592 668,1602 V1630 Q668,1640 674,1640 Q668,1640 668,1650 V1691 Q668,1701 660,1701"/>
<text x="366" y="1741" style="font-size:18px" textLength="466">※自給率は、国内で使用される血液製剤のうち、国内で行</text>
<text x="382" y="1765" style="font-size:18px">われる献血により得られた血液を</text>
<text x="382" y="1790" style="font-size:18px">原料として製造された血液製剤の割合をいう。</text>
</g>
</svg>
